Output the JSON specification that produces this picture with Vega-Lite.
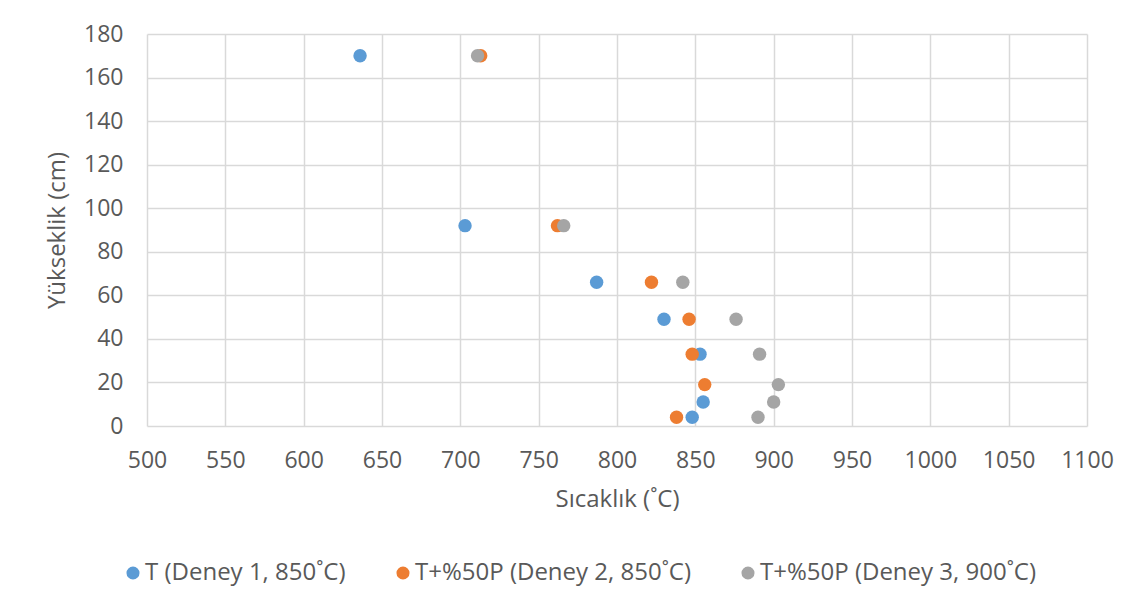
{
  "$schema": "https://vega.github.io/schema/vega-lite/v6.json",
  "width": 940,
  "height": 392,
  "autosize": {"type": "none"},
  "padding": {"left": 147, "top": 34, "right": 51, "bottom": 187},
  "background": "white",
  "config": {
    "font": "Open Sans",
    "view": {"stroke": null},
    "axis": {
      "labelFont": "Open Sans",
      "titleFont": "Open Sans",
      "labelColor": "#595959",
      "titleColor": "#595959",
      "labelFontSize": 23,
      "titleFontSize": 24,
      "titleFontWeight": "normal",
      "gridColor": "#d9d9d9",
      "gridWidth": 1.5,
      "ticks": false,
      "domain": false
    },
    "legend": {
      "labelFont": "Open Sans",
      "labelFontSize": 24,
      "labelColor": "#595959",
      "labelLimit": 500
    }
  },
  "data": {
    "values": [
      {"seri": "T (Deney 1, 850˚C)", "sicaklik": 636, "yukseklik": 170},
      {"seri": "T (Deney 1, 850˚C)", "sicaklik": 703, "yukseklik": 92},
      {"seri": "T (Deney 1, 850˚C)", "sicaklik": 787, "yukseklik": 66},
      {"seri": "T (Deney 1, 850˚C)", "sicaklik": 830, "yukseklik": 49},
      {"seri": "T (Deney 1, 850˚C)", "sicaklik": 853, "yukseklik": 33},
      {"seri": "T (Deney 1, 850˚C)", "sicaklik": 855, "yukseklik": 11},
      {"seri": "T (Deney 1, 850˚C)", "sicaklik": 848, "yukseklik": 4},
      {"seri": "T+%50P (Deney 2, 850˚C)", "sicaklik": 713, "yukseklik": 170},
      {"seri": "T+%50P (Deney 2, 850˚C)", "sicaklik": 762, "yukseklik": 92},
      {"seri": "T+%50P (Deney 2, 850˚C)", "sicaklik": 822, "yukseklik": 66},
      {"seri": "T+%50P (Deney 2, 850˚C)", "sicaklik": 846, "yukseklik": 49},
      {"seri": "T+%50P (Deney 2, 850˚C)", "sicaklik": 848, "yukseklik": 33},
      {"seri": "T+%50P (Deney 2, 850˚C)", "sicaklik": 856, "yukseklik": 19},
      {"seri": "T+%50P (Deney 2, 850˚C)", "sicaklik": 838, "yukseklik": 4},
      {"seri": "T+%50P (Deney 3, 900˚C)", "sicaklik": 711, "yukseklik": 170},
      {"seri": "T+%50P (Deney 3, 900˚C)", "sicaklik": 766, "yukseklik": 92},
      {"seri": "T+%50P (Deney 3, 900˚C)", "sicaklik": 842, "yukseklik": 66},
      {"seri": "T+%50P (Deney 3, 900˚C)", "sicaklik": 876, "yukseklik": 49},
      {"seri": "T+%50P (Deney 3, 900˚C)", "sicaklik": 891, "yukseklik": 33},
      {"seri": "T+%50P (Deney 3, 900˚C)", "sicaklik": 903, "yukseklik": 19},
      {"seri": "T+%50P (Deney 3, 900˚C)", "sicaklik": 900, "yukseklik": 11},
      {"seri": "T+%50P (Deney 3, 900˚C)", "sicaklik": 890, "yukseklik": 4}
    ]
  },
  "mark": {"type": "circle", "size": 180, "opacity": 1},
  "encoding": {
    "x": {
      "field": "sicaklik",
      "type": "quantitative",
      "title": "Sıcaklık (˚C)",
      "scale": {"domain": [500, 1100], "nice": false, "zero": false},
      "axis": {"values": [500,550,600,650,700,750,800,850,900,950,1000,1050,1100], "format": "d", "labelPadding": 23, "titlePadding": 15, "labelFlush": false}
    },
    "y": {
      "field": "yukseklik",
      "type": "quantitative",
      "title": "Yükseklik (cm)",
      "scale": {"domain": [0, 180], "nice": false},
      "axis": {"values": [0,20,40,60,80,100,120,140,160,180], "format": "d", "labelPadding": 24, "titlePadding": 14, "labelFlush": false}
    },
    "color": {
      "field": "seri",
      "type": "nominal",
      "title": null,
      "scale": {
        "domain": ["T (Deney 1, 850˚C)", "T+%50P (Deney 2, 850˚C)", "T+%50P (Deney 3, 900˚C)"],
        "range": ["#5b9bd5", "#ed7d31", "#a5a5a5"]
      },
      "legend": {
        "orient": "none",
        "direction": "horizontal",
        "legendX": -26,
        "legendY": 527,
        "symbolType": "circle",
        "symbolSize": 170,
        "symbolOpacity": 1,
        "columnPadding": 45,
        "labelOffset": 0
      }
    }
  }
}
